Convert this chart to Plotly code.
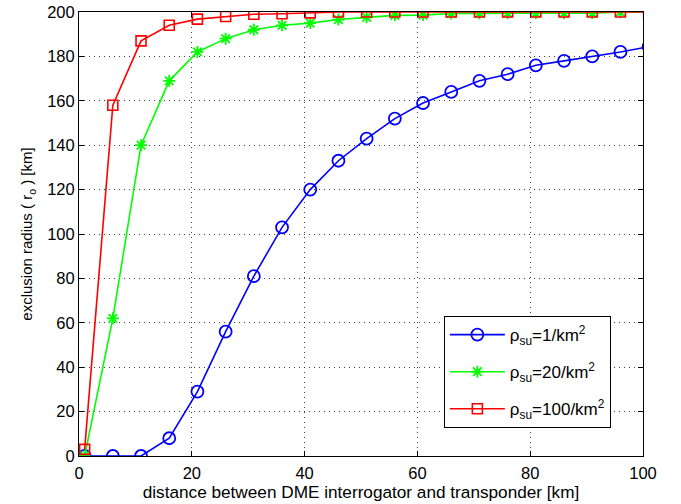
import plotly.graph_objects as go

x_km = [1, 6, 11, 16, 21, 26, 31, 36, 41, 46, 51, 56, 61, 66, 71, 76, 81, 86, 91, 96, 101]
r_rho1 = [0, 0, 0, 8, 29, 56, 81, 103, 120, 133, 143, 152, 159, 164, 169, 172, 176, 178, 180, 182, 184.4]
r_rho20 = [0, 62, 140, 169, 182, 188, 192, 194, 195, 196.6, 197.6, 198.5, 198.6, 199.3, 199.4, 199.5, 199.5, 199.5, 199.5, 200, 200]
r_rho100 = [3, 158, 187, 194, 196.8, 198, 199, 199.2, 199.6, 200, 200, 200, 200, 200, 200, 200, 200, 200, 200, 200, 200]
names = ["ρ<sub>su</sub>=1/km<sup>2</sup>", "ρ<sub>su</sub>=20/km<sup>2</sup>", "ρ<sub>su</sub>=100/km<sup>2</sup>"]
x_ticks = [0, 20, 40, 60, 80, 100]
y_ticks = [0, 20, 40, 60, 80, 100, 120, 140, 160, 180, 200]

fig = go.Figure()
fig.add_trace(go.Scatter(x=x_km, y=r_rho1, name=names[0], mode="lines+markers", legendgroup="a",
                         line=dict(color="#0000ff", width=1.6),
                         marker=dict(symbol="circle-open", size=12, color="#0000ff", line=dict(width=1.8))))
fig.add_trace(go.Scatter(x=x_km, y=r_rho20, name=names[1], mode="lines+markers", legendgroup="b",
                         line=dict(color="#00ff00", width=1.6),
                         marker=dict(symbol="asterisk-open", size=10, color="#00ff00", line=dict(width=1.8, color="#00ff00"))))
fig.add_trace(go.Scatter(x=x_km, y=r_rho100, name=names[2], mode="lines+markers", legendgroup="c",
                         line=dict(color="#ff0000", width=1.6),
                         marker=dict(symbol="square-open", size=10, color="#ff0000", line=dict(width=1.6))))

axis_common = dict(showline=True, linecolor="black", linewidth=1, mirror="allticks",
                   ticks="inside", ticklen=5, tickcolor="black", automargin=False,
                   showgrid=True, gridcolor="rgba(0,0,0,0.75)", griddash="1px,4px", gridwidth=1,
                   zeroline=False, tickfont=dict(size=16.5, color="black"))

fig.update_xaxes(range=[0, 100], tickvals=x_ticks, ticklabelstandoff=2,
                 title=dict(text="distance between DME interrogator and transponder [km]",
                            font=dict(size=17.2, color="black"), standoff=0), **axis_common)
fig.update_yaxes(range=[0, 200], tickvals=y_ticks,
                 title=dict(text="exclusion radius ( r<sub>o</sub> ) [km]",
                            font=dict(size=15, color="black"), standoff=10), **axis_common)

fig.update_layout(
    width=681, height=504,
    margin=dict(l=79, r=38, t=12, b=48, autoexpand=False),
    paper_bgcolor="white", plot_bgcolor="white",
    font=dict(family="Liberation Sans, Arial, sans-serif", color="black"),
    showlegend=True,
    legend=dict(x=0.943, xanchor="right", y=0.063, yanchor="bottom",
                bgcolor="white", bordercolor="black", borderwidth=1,
                font=dict(size=17, color="black"), traceorder="grouped",
                tracegroupgap=12, itemwidth=55),
)

fig.write_html("out.html", config={"displayModeBar": False},
               post_script="document.body.style.margin='0';document.body.style.overflow='hidden';")
